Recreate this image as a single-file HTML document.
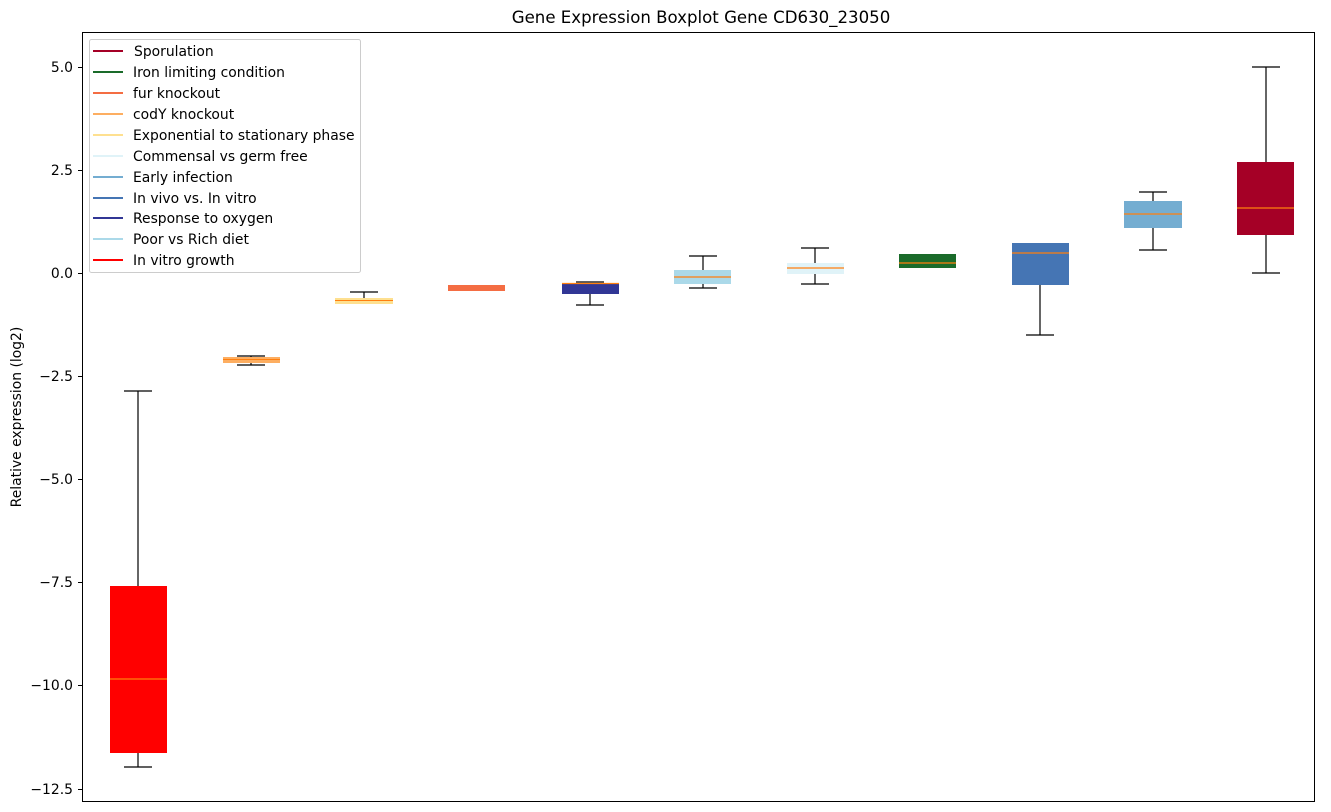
<!DOCTYPE html>
<html><head><meta charset="utf-8"><style>body{margin:0;background:#fff}svg{display:block}text{font-family:"DejaVu Sans","Liberation Sans",sans-serif;font-size:13.9px;fill:#000}</style></head>
<body>
<svg width="1331" height="812" viewBox="0 0 1331 812" xmlns="http://www.w3.org/2000/svg">
<text x="701" y="23" text-anchor="middle" style="font-size:16.6px">Gene Expression Boxplot Gene CD630_23050</text>
<text transform="translate(21,417) rotate(-90)" text-anchor="middle">Relative expression (log2)</text>
<g stroke="#000" stroke-width="1">
<line x1="78" y1="67.5" x2="82" y2="67.5"/><line x1="78" y1="170.5" x2="82" y2="170.5"/><line x1="78" y1="273.5" x2="82" y2="273.5"/><line x1="78" y1="376.5" x2="82" y2="376.5"/><line x1="78" y1="479.5" x2="82" y2="479.5"/><line x1="78" y1="582.5" x2="82" y2="582.5"/><line x1="78" y1="685.5" x2="82" y2="685.5"/><line x1="78" y1="789.5" x2="82" y2="789.5"/>
</g>
<g text-anchor="end">
<text x="73" y="72">5.0</text><text x="73" y="175">2.5</text><text x="73" y="278">0.0</text><text x="73" y="381">−2.5</text><text x="73" y="484">−5.0</text><text x="73" y="587">−7.5</text><text x="73" y="690">−10.0</text><text x="73" y="794">−12.5</text>
</g>
<g stroke="#000" stroke-width="1.2">
<line x1="138" y1="391" x2="138" y2="586"/><line x1="138" y1="753" x2="138" y2="767"/>
<line x1="124" y1="391" x2="152" y2="391"/><line x1="124" y1="767" x2="152" y2="767"/>
<line x1="251" y1="356" x2="251" y2="365"/><line x1="237" y1="356" x2="265" y2="356"/><line x1="237" y1="365" x2="265" y2="365"/>
<line x1="364" y1="292" x2="364" y2="298"/><line x1="350" y1="292" x2="378" y2="292"/>
<line x1="590" y1="294" x2="590" y2="305"/><line x1="576" y1="305" x2="604" y2="305"/><line x1="576" y1="282" x2="604" y2="282"/>
<line x1="703" y1="256" x2="703" y2="288"/><line x1="689" y1="256" x2="717" y2="256"/><line x1="689" y1="288" x2="717" y2="288"/>
<line x1="815" y1="248" x2="815" y2="284"/><line x1="801" y1="248" x2="829" y2="248"/><line x1="801" y1="284" x2="829" y2="284"/>
<line x1="1040" y1="285" x2="1040" y2="335"/><line x1="1026" y1="335" x2="1054" y2="335"/>
<line x1="1153" y1="192" x2="1153" y2="250"/><line x1="1139" y1="192" x2="1167" y2="192"/><line x1="1139" y1="250" x2="1167" y2="250"/>
<line x1="1266" y1="67" x2="1266" y2="273"/><line x1="1252" y1="67" x2="1280" y2="67"/><line x1="1252" y1="273" x2="1280" y2="273"/>
</g>
<rect x="110" y="586" width="57" height="167" fill="#ff0000"/>
<line x1="110" y1="679" x2="167" y2="679" stroke="#ff9f0e" stroke-width="1"/>
<rect x="223" y="357" width="57" height="6" fill="#fdae61"/>
<line x1="223" y1="359.5" x2="280" y2="359.5" stroke="#ff7f0e" stroke-width="1"/>
<rect x="335" y="298" width="58" height="6" fill="#fee090"/>
<line x1="335" y1="300.5" x2="393" y2="300.5" stroke="#ff7f0e" stroke-width="1"/>
<rect x="448" y="285" width="57" height="6" fill="#f46d43"/>
<rect x="562" y="283" width="57" height="11" fill="#313695"/>
<line x1="562" y1="283.5" x2="619" y2="283.5" stroke="#ff7f0e" stroke-width="1.2"/>
<rect x="674" y="270" width="57" height="14" fill="#abd9e9"/>
<line x1="674" y1="277" x2="731" y2="277" stroke="#ff7f0e" stroke-width="1.2"/>
<rect x="787" y="263" width="57" height="11" fill="#e0f3f8"/>
<line x1="787" y1="268" x2="844" y2="268" stroke="#ff7f0e" stroke-width="1.2"/>
<rect x="899" y="254" width="57" height="14" fill="#1a6b2a"/>
<line x1="899" y1="263" x2="956" y2="263" stroke="#ff7f0e" stroke-width="1.2"/>
<rect x="1012" y="243" width="57" height="42" fill="#4575b4"/>
<line x1="1012" y1="253" x2="1069" y2="253" stroke="#ff7f0e" stroke-width="1.2"/>
<rect x="1124" y="201" width="58" height="27" fill="#74add1"/>
<line x1="1124" y1="214" x2="1182" y2="214" stroke="#ff7f0e" stroke-width="1.2"/>
<rect x="1237" y="162" width="57" height="73" fill="#a50026"/>
<line x1="1237" y1="208" x2="1294" y2="208" stroke="#ff7f0e" stroke-width="1.2"/>
<rect x="89.5" y="39.5" width="271" height="233" rx="2" fill="#fff" fill-opacity="0.8" stroke="#ccc"/>
<g stroke-width="2">
<line x1="93" y1="51" x2="123" y2="51" stroke="#a50026"/>
<line x1="93" y1="72" x2="123" y2="72" stroke="#1a6b2a"/>
<line x1="93" y1="93" x2="123" y2="93" stroke="#f46d43"/>
<line x1="93" y1="114" x2="123" y2="114" stroke="#fdae61"/>
<line x1="93" y1="135" x2="123" y2="135" stroke="#fee090"/>
<line x1="93" y1="156" x2="123" y2="156" stroke="#e0f3f8"/>
<line x1="93" y1="177" x2="123" y2="177" stroke="#74add1"/>
<line x1="93" y1="198" x2="123" y2="198" stroke="#4575b4"/>
<line x1="93" y1="218" x2="123" y2="218" stroke="#313695"/>
<line x1="93" y1="239" x2="123" y2="239" stroke="#abd9e9"/>
<line x1="93" y1="260" x2="123" y2="260" stroke="#ff0000"/>
</g>
<g>
<text x="134" y="56">Sporulation</text>
<text x="133" y="77">Iron limiting condition</text>
<text x="133" y="98">fur knockout</text>
<text x="133" y="119">codY knockout</text>
<text x="133" y="140">Exponential to stationary phase</text>
<text x="133" y="161">Commensal vs germ free</text>
<text x="133" y="182">Early infection</text>
<text x="133" y="203">In vivo vs. In vitro</text>
<text x="133" y="223">Response to oxygen</text>
<text x="133" y="244">Poor vs Rich diet</text>
<text x="133" y="265">In vitro growth</text>
</g>
<rect x="82.5" y="32.5" width="1232" height="769" fill="none" stroke="#000" stroke-width="1"/>
</svg>
</body></html>
